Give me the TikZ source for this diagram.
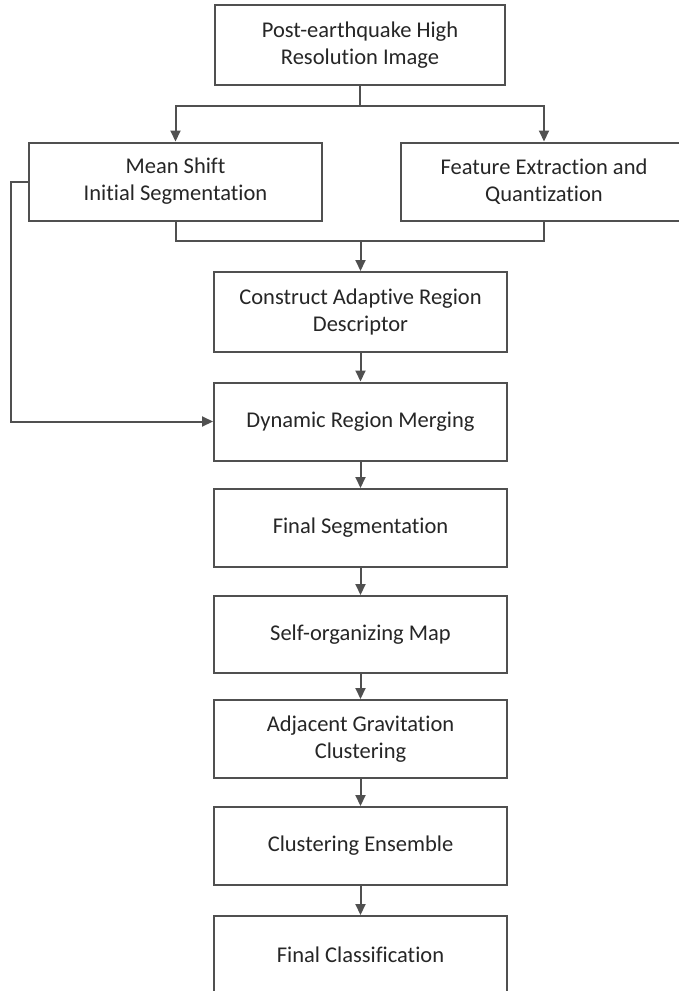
\documentclass[tikz,border=0pt]{standalone}
\usepackage{fontspec}
\setmainfont[Ligatures=NoCommon]{Carlito}
\usetikzlibrary{arrows.meta}
\definecolor{ln}{HTML}{505050}
\definecolor{tx}{HTML}{262626}
\begin{document}
\begin{tikzpicture}[x=1pt,y=1pt,
  box/.style={draw=ln, line width=2pt, rectangle, fill=white, text=tx, align=center,
              font=\fontsize{22.5}{27}\selectfont, inner sep=0pt},
  cbox/.style={box, minimum width=293pt, minimum height=78pt},
  conn/.style={draw=ln, line width=2pt},
  arr/.style={conn, -{Triangle[width=10pt,length=11pt]}}]
\useasboundingbox (0,0) rectangle (679,-991);
\fill[white] (0,0) rectangle (679,-991);
\node[box, minimum width=290pt, minimum height=80pt] (top) at (360,-45) {Post-earthquake High\\Resolution Image};
\node[box, minimum width=293pt, minimum height=78pt] (ms) at (175.5,-181.5) {Mean Shift\\Initial Segmentation};
\node[box, minimum width=286pt, minimum height=78pt] (fe) at (544,-181.5) {Feature Extraction and\\Quantization};
\node[cbox, minimum height=80pt] (card) at (360.5,-312) {Construct Adaptive Region\\Descriptor};
\node[cbox] (drm) at (360.5,-421.5) {Dynamic Region Merging};
\node[cbox] (fs) at (360.5,-528) {Final Segmentation};
\node[cbox, minimum height=77pt] (som) at (360.5,-634.5) {Self-organizing Map};
\node[cbox] (agc) at (360.5,-739) {Adjacent Gravitation\\Clustering};
\node[cbox] (ce) at (360.5,-846) {Clustering Ensemble};
\node[cbox] (fc) at (360.5,-955) {Final Classification};

\coordinate (split) at (360,-106);
\coordinate (merge) at (360.5,-241);
\draw[conn] (top.south) -- (split);
\draw[arr] (split) -| (ms.north);
\draw[arr] (split) -| (fe.north);
\draw[conn] (ms.south) |- (merge);
\draw[conn] (merge) -| (fe.south);
\draw[arr] (merge) -- (card.north);
\draw[arr] (ms.west) -- ++(-17,0) |- (drm.west);
\draw[arr] (card) -- (drm);
\draw[arr] (drm) -- (fs);
\draw[arr] (fs) -- (som);
\draw[arr] (som) -- (agc);
\draw[arr] (agc) -- (ce);
\draw[arr] (ce) -- (fc);
\end{tikzpicture}
\end{document}
